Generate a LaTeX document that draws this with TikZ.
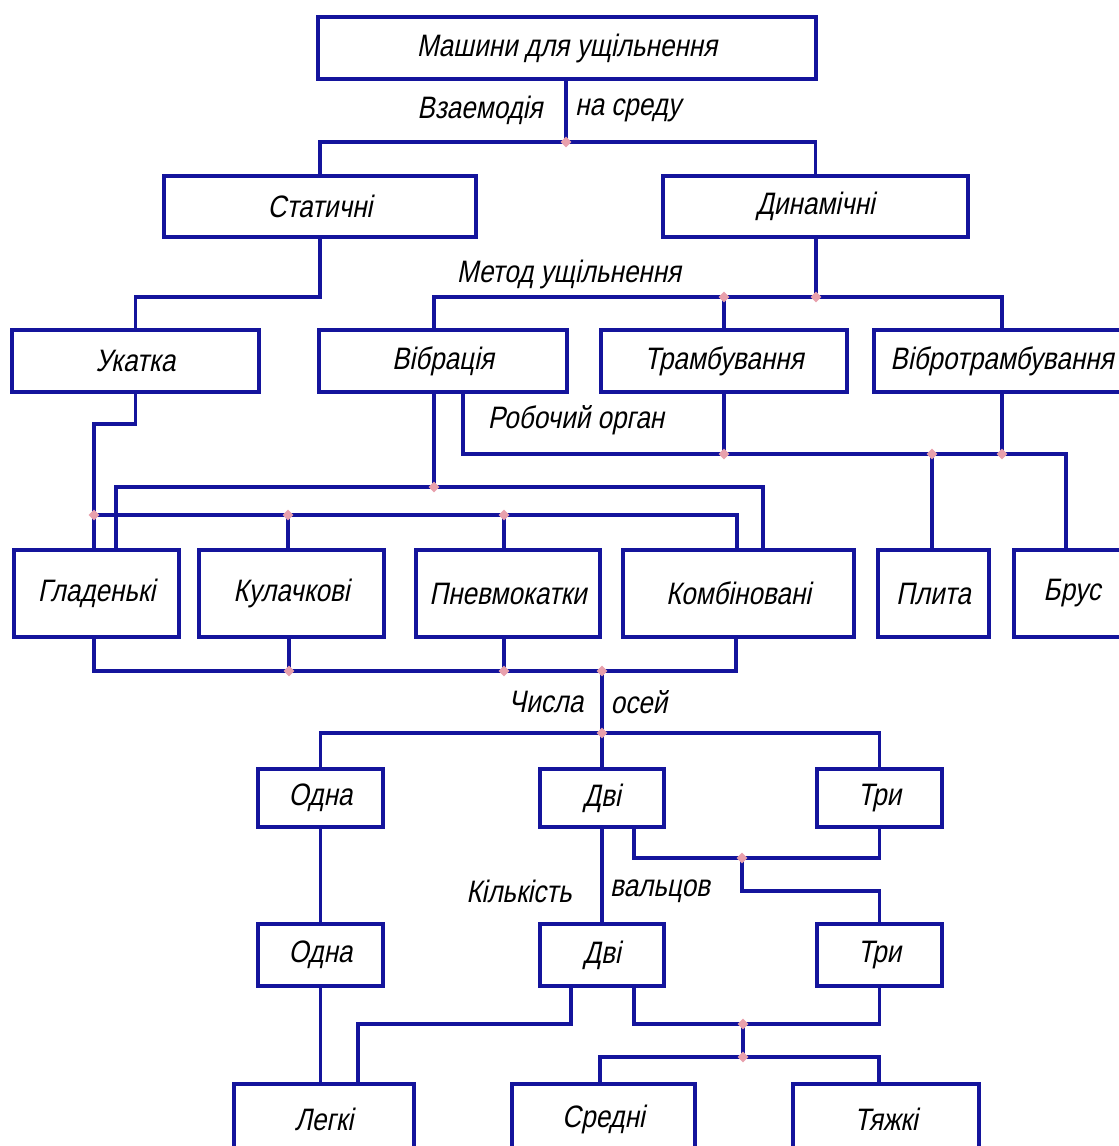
\documentclass[tikz,border=0pt]{standalone}
\usepackage{fontspec}
\setmainfont{Liberation Sans}
\newfontfamily\gost[FakeStretch=0.84,FakeSlant=0.2]{Liberation Sans}
\usetikzlibrary{calc,shapes.geometric}
\definecolor{liniya}{HTML}{14149C}
\definecolor{vuzol}{HTML}{E8A0AC}

\begin{document}
\begin{tikzpicture}[x=1pt,y=-1pt,font=\gost\fontsize{31}{36}\selectfont,
  blok/.style={draw=liniya, line width=4pt, fill=white, inner sep=0pt},
  zv/.style={liniya, line width=3.4pt},
  vuz/.style={diamond, fill=vuzol, inner sep=0pt, minimum size=11pt}]
\useasboundingbox[fill=white] (0,0) rectangle (1119,1146);
% blocks
\node[blok, minimum width=498pt, minimum height=62pt] (mash) at (567,48) {Машини для ущільнення};
\node[blok, minimum width=312pt, minimum height=61pt] (stat) at (320,206.5) {Статичні};
\node[blok, minimum width=305pt, minimum height=61pt] (dyn) at (815.5,206.5) {Динамічні};
\node[blok, minimum width=247pt, minimum height=62pt] (ukat) at (135.5,361) {Укатка};
\node[blok, minimum width=248pt, minimum height=62pt] (vibr) at (443,361) {Вібрація};
\node[blok, minimum width=246pt, minimum height=62pt] (tramb) at (724,361) {Трамбування};
\node[blok, minimum width=256pt, minimum height=62pt] (vtramb) at (1002,361) {Вібротрамбування};
\node[blok, minimum width=165pt, minimum height=87pt] (glad) at (96.5,593.5) {Гладенькі};
\node[blok, minimum width=185pt, minimum height=87pt] (kul) at (291.5,593.5) {Кулачкові};
\node[blok, minimum width=184pt, minimum height=87pt] (pnev) at (508,593.5) {Пневмокатки};
\node[blok, minimum width=231pt, minimum height=87pt] (komb) at (738.5,593.5) {Комбіновані};
\node[blok, minimum width=111pt, minimum height=87pt] (plyta) at (933.5,593.5) {Плита};
\node[blok, minimum width=116pt, minimum height=87pt] (brus) at (1072,593.5) {Брус};
\node[blok, minimum width=125pt, minimum height=58pt] (odna1) at (320.5,798) {Одна};
\node[blok, minimum width=124pt, minimum height=58pt] (dvi1) at (602,798) {Дві};
\node[blok, minimum width=125pt, minimum height=58pt] (try1) at (879.5,798) {Три};
\node[blok, minimum width=125pt, minimum height=62pt] (odna2) at (320.5,955) {Одна};
\node[blok, minimum width=124pt, minimum height=62pt] (dvi2) at (602,955) {Дві};
\node[blok, minimum width=125pt, minimum height=62pt] (try2) at (879.5,955) {Три};
\node[blok, minimum width=180pt, minimum height=70pt] (legki) at (324,1119) {Легкі};
\node[blok, minimum width=183pt, minimum height=70pt] (seredni) at (603.5,1119) {Средні};
\node[blok, minimum width=186pt, minimum height=70pt] (tyazhki) at (886,1119) {Тяжкі};
% labels
\node (vzaem) at (480,110) {Взаемодія};
\node (sereda) at (628,110) {на среду};
\node (metod) at (569,274) {Метод ущільнення};
\node (organ) at (576,420) {Робочий орган};
\node (chysla) at (546,702) {Числа};
\node (osei) at (639,702) {осей};
\node (kilk) at (519,891) {Кількість};
\node (valc) at (660,891) {вальцов};
% junctions
\coordinate (j0) at (566,142);
\coordinate (j1a) at (724,297);
\coordinate (j1b) at (816,297);
\coordinate (j2a) at (724,454);
\coordinate (j2b) at (932,454);
\coordinate (j2c) at (1002,454);
\coordinate (j3) at (94,424);
\coordinate (j4) at (434,487);
\coordinate (j5a) at (94,515);
\coordinate (j5b) at (288,515);
\coordinate (j5c) at (504,515);
\coordinate (j6a) at (289,671);
\coordinate (j6b) at (504,671);
\coordinate (j6c) at (602,671);
\coordinate (j7) at (602,733);
\coordinate (j8) at (742,858);
\coordinate (j8b) at (742,891);
\coordinate (j9) at (743,1024);
\coordinate (j9b) at (743,1057);
\coordinate (j10) at (358,1024);
\coordinate (r0) at (463,454);
\coordinate (r1) at (1066,454);
\coordinate (v0) at (116,487);
\coordinate (v1) at (763,487);
\coordinate (g1) at (737,515);
\coordinate (n0) at (94,671);
\coordinate (n1) at (736,671);
\coordinate (k0) at (634,858);
\coordinate (l0) at (571,1024);
\coordinate (t0) at (634,1024);
\coordinate (s0) at (600,1057);
\coordinate (s1) at (879,1057);
% connectors
\draw[zv] (mash.south -| j0) -- (j0);
\draw[zv] (stat.north) |- (j0) -| (dyn.north);
\draw[zv] (stat.south) |- (ukat.north |- j1b) -- (ukat.north);
\draw[zv] (dyn.south -| j1b) -- (j1b);
\draw[zv] (vibr.north -| j4) |- (j1b) -| (vtramb.north);
\draw[zv] (tramb.north -| j1a) -- (j1a);
\draw[zv] (vibr.south -| r0) -- (r0) -- (r1) -- (brus.north -| r1);
\draw[zv] (tramb.south -| j2a) -- (j2a);
\draw[zv] (vtramb.south -| j2c) -- (j2c);
\draw[zv] (plyta.north -| j2b) -- (j2b);
\draw[zv] (ukat.south) |- (j3) -- (glad.north -| j3);
\draw[zv] (vibr.south -| j4) -- (j4);
\draw[zv] (glad.north -| v0) -- (v0) -- (v1) -- (komb.north -| v1);
\draw[zv] (j5a) -- (g1) -- (komb.north -| g1);
\draw[zv] (kul.north -| j5b) -- (j5b);
\draw[zv] (pnev.north -| j5c) -- (j5c);
\draw[zv] (glad.south -| n0) -- (n0) -- (n1) -- (komb.south -| n1);
\draw[zv] (kul.south -| j6a) -- (j6a);
\draw[zv] (pnev.south -| j6b) -- (j6b);
\draw[zv] (j6c) -- (j7);
\draw[zv] (odna1.north) |- (j7) -| (try1.north);
\draw[zv] (j7) -- (dvi1.north -| j7);
\draw[zv] (dvi1.south -| j7) -- (dvi2.north -| j7);
\draw[zv] (dvi1.south -| k0) -- (k0) -| (try1.south);
\draw[zv] (j8) -- (j8b) -| (try2.north);
\draw[zv] (odna1.south) -- (odna2.north);
\draw[zv] (odna2.south) -- (legki.north -| odna2.south);
\draw[zv] (dvi2.south -| l0) -- (l0) -- (j10) -- (legki.north -| j10);
\draw[zv] (dvi2.south -| t0) -- (t0) -| (try2.south);
\draw[zv] (j9) -- (j9b);
\draw[zv] (seredni.north -| s0) -- (s0) -- (s1) -- (tyazhki.north -| s1);
% dots
\foreach \p in {j0,j1a,j1b,j2a,j2b,j2c,j4,j5a,j5b,j5c,j6a,j6b,j6c,j7,j8,j9,j9b}
  \node[vuz] (d-\p) at (\p) {};
\end{tikzpicture}
\end{document}
